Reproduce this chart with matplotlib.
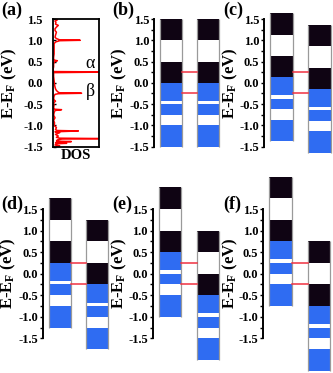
import numpy as np
import matplotlib
matplotlib.use('Agg')
import matplotlib.pyplot as plt
from matplotlib.ticker import MultipleLocator

plt.rcParams['font.family'] = 'Liberation Serif'
plt.rcParams['font.weight'] = 'bold'
plt.rcParams['axes.unicode_minus'] = False
plt.rcParams['mathtext.fontset'] = 'custom'
plt.rcParams['mathtext.rm'] = 'Liberation Serif:bold'
plt.rcParams['mathtext.it'] = 'Liberation Serif:bold'
plt.rcParams['mathtext.bf'] = 'Liberation Serif:bold'

# ── DOS of panel (a): energy (eV) vs DOS (fraction of box width) ──
dos_e = [-1.50, -1.48, -1.46, -1.43, -1.42, -1.41, -1.39, -1.38, -1.37, -1.34,
         -1.32, -1.31, -1.30, -1.28, -1.25, -1.21, -1.17, -1.15, -1.14, -1.13,
         -1.12, -1.10, -1.05, -1.00, -0.94, -0.88, -0.82, -0.76, -0.70, -0.65,
         -0.64, -0.63, -0.62, -0.58, -0.53, -0.47, -0.43, -0.40, -0.36, -0.31,
         -0.27, -0.255, -0.245, -0.235, -0.22, -0.18, -0.14, -0.10, -0.05, 0.00,
         0.05, 0.10, 0.15, 0.20, 0.24, 0.255, 0.265, 0.28, 0.32, 0.38,
         0.44, 0.48, 0.51, 0.52, 0.53, 0.55, 0.60, 0.68, 0.77, 0.85,
         0.92, 0.96, 0.99, 1.00, 1.01, 1.04, 1.07, 1.12, 1.19, 1.23,
         1.27, 1.31, 1.35, 1.38, 1.42, 1.45, 1.48, 1.50]
dos_v = [0.08, 0.15, 0.05, 0.10, 0.30, 0.06, 0.12, 0.40, 0.08, 0.10,
         0.20, 1.20, 0.15, 0.08, 0.12, 0.06, 0.15, 0.05, 0.30, 0.55,
         0.10, 0.06, 0.08, 0.03, 0.04, 0.02, 0.05, 0.02, 0.03, 0.05,
         0.12, 0.19, 0.04, 0.02, 0.03, 0.02, 0.06, 0.03, 0.02, 0.03,
         0.05, 0.12, 0.62, 0.15, 0.12, 0.08, 0.06, 0.05, 0.04, 0.035,
         0.03, 0.025, 0.02, 0.02, 0.02, 1.30, 0.03, 0.01, 0.01, 0.02,
         0.02, 0.03, 0.06, 0.10, 0.05, 0.02, 0.02, 0.03, 0.03, 0.03,
         0.03, 0.06, 0.15, 0.59, 0.15, 0.08, 0.05, 0.06, 0.08, 0.05,
         0.05, 0.08, 0.12, 0.06, 0.07, 0.05, 0.10, 0.08]

# ── band-gap bars: segment boundaries (eV) and fill, same template shifted ──
bar_edges = [1.5, 1.0, 0.5, 0.0, -0.42, -0.5, -0.75, -1.0, -1.5]
bar_fill = ['black', 'white', 'black', 'blue', 'white', 'blue', 'white', 'blue']
panel_names = ['(b)', '(c)', '(d)', '(e)', '(f)']
left_shift = [0.0, 0.13, 0.25, 0.50, 0.75]
right_shift = [0.0, -0.14, -0.25, -0.50, -0.75]
levels = [0.25, -0.25]  # alpha / beta states

fill_color = {'black': '#0f0413', 'white': 'white', 'blue': '#2f6cf2'}
ticks = [-1.5, -1.0, -0.5, 0.0, 0.5, 1.0, 1.5]
tick_labels = [f'{v:.1f}' for v in ticks]

W, H = 333, 373
fig = plt.figure(figsize=(W / 100, H / 100), dpi=100)

def fx(px):
    return px / W

def fy(px):
    return 1 - px / H

row_box = {1: (fy(146.7), (146.7 - 19) / H), 2: (fy(338.3), (338.3 - 209) / H)}
ylab = 'E-E$_\\mathrm{F}$ (eV)'
TICK_FS, YLAB_FS, TAG_FS = 9, 12, 13

# ── (a) DOS ──
b, h = row_box[1]
ax = fig.add_axes([fx(52.7), b, 46.6 / W, h])
ax.plot(dos_v, dos_e, color='red', lw=1.1)
ax.set_xlim(0, 1)
ax.set_ylim(-1.5, 1.5)
ax.set_yticks(ticks)
ax.set_yticklabels(tick_labels, fontweight='bold', fontsize=TICK_FS)
ax.set_xticks([])
ax.tick_params(axis='y', direction='in', length=2.5, width=1, pad=7)
for s in ax.spines.values():
    s.set_linewidth(1.3)
ax.set_xlabel('DOS', fontsize=10.5, fontweight='bold', labelpad=2)
ax.set_ylabel(ylab, fontsize=YLAB_FS, fontweight='bold')
ax.yaxis.set_label_coords(fx(19), fy(83), transform=fig.transFigure)
ax.text(0.8, 0.46, 'α', fontsize=13, fontweight='normal', ha='center', va='center',
        transform=ax.get_yaxis_transform())
ax.text(0.8, -0.2, 'β', fontsize=13, fontweight='normal', ha='center', va='center',
        transform=ax.get_yaxis_transform())
fig.text(fx(1), fy(2), '(a)', fontsize=TAG_FS, fontweight='bold', va='top', ha='left')

# ── (b)-(f) band diagrams ──
layout = [  # spine x (px), width (px), row, label x (px)
    (154.0, 65.0, 1, 112),
    (264.0, 66.7, 1, 223),
    (42.7, 65.0, 2, 1),
    (152.7, 66.6, 2, 112),
    (263.3, 67.0, 2, 223),
]
lx0, lx1 = 0.09, 0.43
rx0, rx1 = 0.66, 1.0

for name, ls, rs, (x0, w, row, tx) in zip(panel_names, left_shift, right_shift, layout):
    b, h = row_box[row]
    ax = fig.add_axes([fx(x0), b, w / W, h])
    for shift, (a0, a1) in [(ls, (lx0, lx1)), (rs, (rx0, rx1))]:
        tops = np.array(bar_edges[:-1]) + shift
        bots = np.array(bar_edges[1:]) + shift
        ax.bar([(a0 + a1) / 2] * len(tops), tops - bots, bottom=bots,
               width=a1 - a0, color=[fill_color[c] for c in bar_fill],
               edgecolor='none', clip_on=False, zorder=2)
        ax.vlines([a0, a1], bar_edges[-1] + shift, bar_edges[0] + shift,
                  color='#9a9a9a', lw=0.9, clip_on=False, zorder=3)
    for lv in levels:
        ax.plot([lx1, rx0], [lv, lv], color='#f03040', lw=1.1, clip_on=False, zorder=3)
    ax.set_xlim(0, 1)
    ax.set_ylim(-1.5, 1.5)
    for side in ['top', 'right', 'bottom']:
        ax.spines[side].set_visible(False)
    ax.spines['left'].set_linewidth(1.4)
    ax.set_xticks([])
    ax.set_yticks(ticks)
    ax.set_yticklabels(tick_labels, fontweight='bold', fontsize=TICK_FS)
    ax.yaxis.set_minor_locator(MultipleLocator(0.25))
    ax.tick_params(axis='y', which='major', direction='out', length=2.5, width=1, pad=1)
    ax.tick_params(axis='y', which='minor', direction='out', length=2.5, width=1)
    ax.patch.set_visible(False)
    yc = (19 + 146.7) / 2 if row == 1 else (209 + 338.3) / 2
    ax.set_ylabel(ylab, fontsize=YLAB_FS, fontweight='bold')
    ax.yaxis.set_label_coords(fx(tx + 17), fy(yc), transform=fig.transFigure)
    ty = 2 if row == 1 else 196
    fig.text(fx(tx), fy(ty), name, fontsize=TAG_FS, fontweight='bold', va='top', ha='left')

fig.savefig('out.png', dpi=100)
